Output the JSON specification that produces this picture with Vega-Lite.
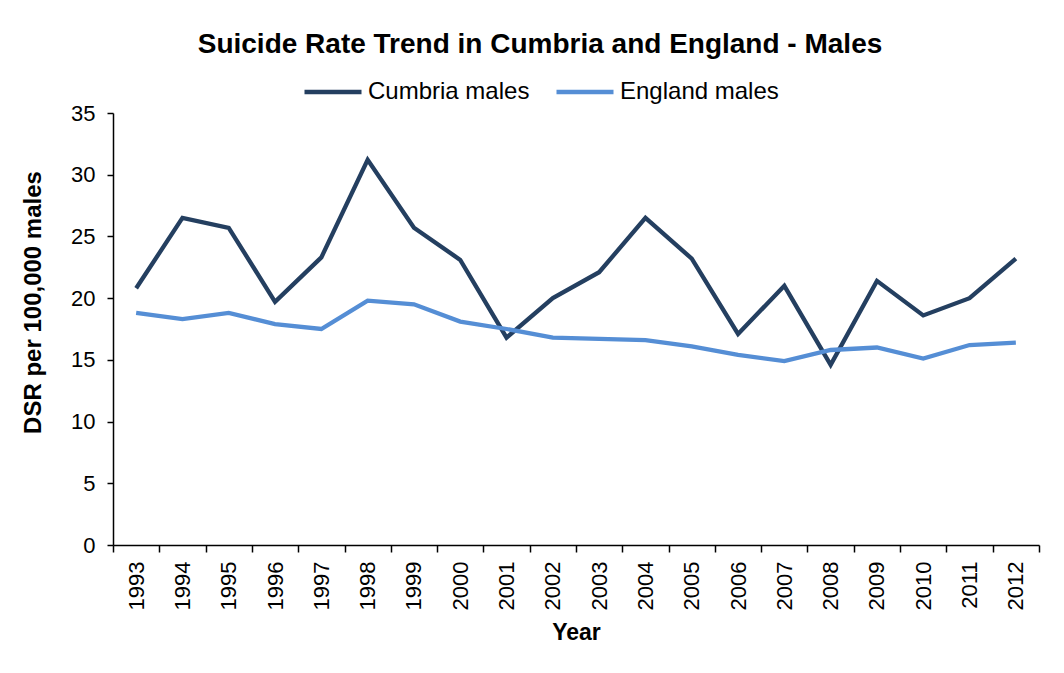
{
  "$schema": "https://vega.github.io/schema/vega-lite/v6.json",
  "autosize": {"type": "none"},
  "padding": {"left": 113, "top": 113, "right": 25, "bottom": 128},
  "width": 926,
  "height": 432,
  "background": "white",
  "title": {
    "text": "Suicide Rate Trend in Cumbria and England - Males",
    "font": "Liberation Sans",
    "fontSize": 28,
    "fontWeight": "bold",
    "color": "black",
    "anchor": "middle",
    "dx": -36,
    "offset": 2
  },
  "data": {
    "values": [
      {"year": "1993", "series": "Cumbria males", "dsr": 20.8},
      {"year": "1994", "series": "Cumbria males", "dsr": 26.5},
      {"year": "1995", "series": "Cumbria males", "dsr": 25.7},
      {"year": "1996", "series": "Cumbria males", "dsr": 19.7},
      {"year": "1997", "series": "Cumbria males", "dsr": 23.3},
      {"year": "1998", "series": "Cumbria males", "dsr": 31.2},
      {"year": "1999", "series": "Cumbria males", "dsr": 25.7},
      {"year": "2000", "series": "Cumbria males", "dsr": 23.1},
      {"year": "2001", "series": "Cumbria males", "dsr": 16.8},
      {"year": "2002", "series": "Cumbria males", "dsr": 20.0},
      {"year": "2003", "series": "Cumbria males", "dsr": 22.1},
      {"year": "2004", "series": "Cumbria males", "dsr": 26.5},
      {"year": "2005", "series": "Cumbria males", "dsr": 23.2},
      {"year": "2006", "series": "Cumbria males", "dsr": 17.1},
      {"year": "2007", "series": "Cumbria males", "dsr": 21.0},
      {"year": "2008", "series": "Cumbria males", "dsr": 14.6},
      {"year": "2009", "series": "Cumbria males", "dsr": 21.4},
      {"year": "2010", "series": "Cumbria males", "dsr": 18.6},
      {"year": "2011", "series": "Cumbria males", "dsr": 20.0},
      {"year": "2012", "series": "Cumbria males", "dsr": 23.2},
      {"year": "1993", "series": "England males", "dsr": 18.8},
      {"year": "1994", "series": "England males", "dsr": 18.3},
      {"year": "1995", "series": "England males", "dsr": 18.8},
      {"year": "1996", "series": "England males", "dsr": 17.9},
      {"year": "1997", "series": "England males", "dsr": 17.5},
      {"year": "1998", "series": "England males", "dsr": 19.8},
      {"year": "1999", "series": "England males", "dsr": 19.5},
      {"year": "2000", "series": "England males", "dsr": 18.1},
      {"year": "2001", "series": "England males", "dsr": 17.5},
      {"year": "2002", "series": "England males", "dsr": 16.8},
      {"year": "2003", "series": "England males", "dsr": 16.7},
      {"year": "2004", "series": "England males", "dsr": 16.6},
      {"year": "2005", "series": "England males", "dsr": 16.1},
      {"year": "2006", "series": "England males", "dsr": 15.4},
      {"year": "2007", "series": "England males", "dsr": 14.9},
      {"year": "2008", "series": "England males", "dsr": 15.8},
      {"year": "2009", "series": "England males", "dsr": 16.0},
      {"year": "2010", "series": "England males", "dsr": 15.1},
      {"year": "2011", "series": "England males", "dsr": 16.2},
      {"year": "2012", "series": "England males", "dsr": 16.4}
    ]
  },
  "mark": {"type": "line", "strokeWidth": 4.3},
  "encoding": {
    "x": {
      "field": "year",
      "type": "ordinal",
      "bandPosition": 0.5,
      "scale": {"type": "band", "paddingInner": 0, "paddingOuter": 0},
      "axis": {
        "title": "Year",
        "tickBand": "extent",
        "tickSize": 7,
        "labelAngle": -90,
        "labelAlign": "right",
        "labelBaseline": "middle",
        "labelPadding": 9,
        "titlePadding": 12
      }
    },
    "y": {
      "field": "dsr",
      "type": "quantitative",
      "scale": {"domain": [0, 35], "nice": false},
      "axis": {
        "title": "DSR per 100,000 males",
        "values": [0, 5, 10, 15, 20, 25, 30, 35],
        "tickSize": 6,
        "labelPadding": 12,
        "titlePadding": 25,
        "titleFontSize": 24,
        "titleY": 189
      }
    },
    "color": {
      "field": "series",
      "type": "nominal",
      "scale": {"domain": ["Cumbria males", "England males"], "range": ["#243F60", "#558ED5"]},
      "legend": {
        "title": null,
        "orient": "none",
        "direction": "horizontal",
        "legendX": 189,
        "legendY": -52,
        "symbolType": "stroke",
        "symbolSize": 3249,
        "symbolStrokeWidth": 4.3,
        "labelOffset": 4,
        "labelLimit": 400,
        "columnPadding": 17
      }
    }
  },
  "config": {
    "view": {"stroke": null},
    "axis": {
      "grid": false,
      "domainColor": "black",
      "domainWidth": 1.5,
      "tickColor": "black",
      "tickWidth": 1.5,
      "labelFont": "Liberation Sans",
      "labelFontSize": 22,
      "labelColor": "black",
      "titleFont": "Liberation Sans",
      "titleFontSize": 23,
      "titleFontWeight": "bold",
      "titleColor": "black"
    },
    "legend": {
      "labelFont": "Liberation Sans",
      "labelFontSize": 24,
      "labelColor": "black"
    }
  }
}
